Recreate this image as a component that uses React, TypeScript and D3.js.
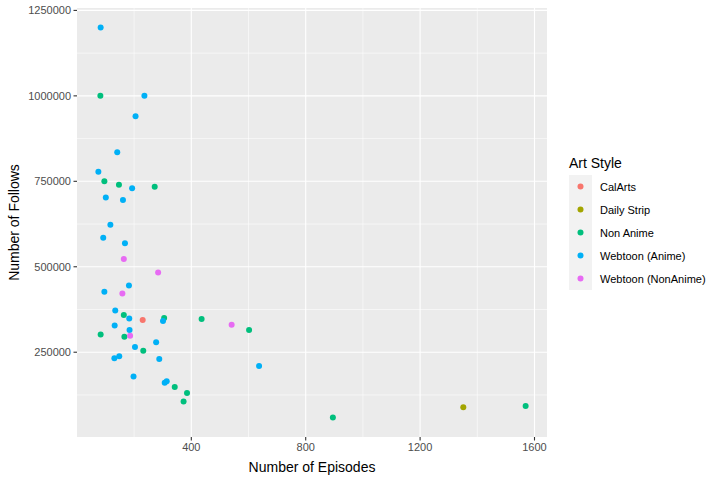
import React from 'react';
import * as d3 from 'd3';

const styles = ['CalArts', 'Daily Strip', 'Non Anime', 'Webtoon (Anime)', 'Webtoon (NonAnime)'];
const palette = ['#F8766D', '#A3A500', '#00BF7D', '#00B0F6', '#E76BF3'];

// [episodes, follows, style index]
const calArts = [[230, 344000]];
const dailyStrip = [[1351, 89000]];
const nonAnime = [
  [82, 1000000], [96, 750000], [147, 740000], [272, 734000], [164, 359000],
  [305, 350000], [436, 347000], [602, 315000], [83, 302000], [166, 295000],
  [232, 254000], [342, 148500], [385, 131000], [373, 106000], [895, 59000],
  [1569, 93000],
];
const webtoonAnime = [
  [83, 1200000], [236, 1000000], [205, 940000], [141, 835000], [75, 778000],
  [193, 730000], [101, 703000], [161, 695000], [117, 623000], [92, 585000],
  [168, 569000], [182, 445000], [96, 427000], [134, 372000], [183, 349000],
  [301, 341000], [132, 328000], [184, 315000], [277, 279000], [203, 265000],
  [131, 232000], [148, 238000], [288, 230000], [637, 210000], [198, 179000],
  [307, 161000], [314, 165000],
];
const webtoonNonAnime = [
  [164, 523000], [284, 483000], [159, 422000], [541, 330000], [186, 298000],
];

const series = [calArts, dailyStrip, nonAnime, webtoonAnime, webtoonNonAnime];
const points = series.flatMap((s, i) => s.map(([x, y]) => ({ x, y, k: i })));

const xTicks = [400, 800, 1200, 1600];
const xMinor = [200, 600, 1000, 1400];
const yTicks = [250000, 500000, 750000, 1000000, 1250000];
const yMinor = [125000, 375000, 625000, 875000, 1125000];

const W = 727;
const H = 479;
const panel = { left: 77, right: 547, top: 8, bottom: 437 };

const expand = (ext: [number, number]) => {
  const r = ext[1] - ext[0];
  return [ext[0] - r * 0.05, ext[1] + r * 0.05];
};

const App = () => {
  const ref = React.useRef<SVGSVGElement>(null);

  React.useEffect(() => {
    const svg = d3.select(ref.current);
    svg.selectAll('*').remove();
    const font = 'Liberation Sans, Arial, Helvetica, sans-serif';

    const x = d3.scaleLinear()
      .domain(expand(d3.extent(points, d => d.x) as [number, number]))
      .range([panel.left, panel.right]);
    const y = d3.scaleLinear()
      .domain(expand(d3.extent(points, d => d.y) as [number, number]))
      .range([panel.bottom, panel.top]);

    svg.append('rect')
      .attr('x', panel.left).attr('y', panel.top)
      .attr('width', panel.right - panel.left).attr('height', panel.bottom - panel.top)
      .attr('fill', '#EBEBEB');

    const grid = svg.append('g');
    grid.selectAll('.xmin').data(xMinor).join('line')
      .attr('x1', d => x(d)).attr('x2', d => x(d))
      .attr('y1', panel.top).attr('y2', panel.bottom)
      .attr('stroke', 'white').attr('stroke-width', 0.55);
    grid.selectAll('.ymin').data(yMinor).join('line')
      .attr('y1', d => y(d)).attr('y2', d => y(d))
      .attr('x1', panel.left).attr('x2', panel.right)
      .attr('stroke', 'white').attr('stroke-width', 0.55);
    grid.selectAll('.xmaj').data(xTicks).join('line')
      .attr('x1', d => x(d)).attr('x2', d => x(d))
      .attr('y1', panel.top).attr('y2', panel.bottom)
      .attr('stroke', 'white').attr('stroke-width', 1.1);
    grid.selectAll('.ymaj').data(yTicks).join('line')
      .attr('y1', d => y(d)).attr('y2', d => y(d))
      .attr('x1', panel.left).attr('x2', panel.right)
      .attr('stroke', 'white').attr('stroke-width', 1.1);

    // points
    svg.append('g').selectAll('circle').data(points).join('circle')
      .attr('cx', d => x(d.x)).attr('cy', d => y(d.y)).attr('r', 3)
      .attr('fill', d => palette[d.k]);

    // axes
    const xa = svg.append('g');
    xa.selectAll('line').data(xTicks).join('line')
      .attr('x1', d => x(d)).attr('x2', d => x(d))
      .attr('y1', panel.bottom).attr('y2', panel.bottom + 3.5)
      .attr('stroke', '#333').attr('stroke-width', 1.1);
    xa.selectAll('text').data(xTicks).join('text')
      .attr('x', d => x(d)).attr('y', panel.bottom + 14)
      .attr('text-anchor', 'middle').attr('font-size', 11).attr('font-family', font)
      .attr('fill', '#4D4D4D').text(d => String(d));

    const ya = svg.append('g');
    ya.selectAll('line').data(yTicks).join('line')
      .attr('y1', d => y(d)).attr('y2', d => y(d))
      .attr('x1', panel.left - 3.5).attr('x2', panel.left)
      .attr('stroke', '#333').attr('stroke-width', 1.1);
    ya.selectAll('text').data(yTicks).join('text')
      .attr('x', panel.left - 6).attr('y', d => y(d) + 4)
      .attr('text-anchor', 'end').attr('font-size', 11).attr('font-family', font)
      .attr('fill', '#4D4D4D').text(d => String(d));

    svg.append('text')
      .attr('x', (panel.left + panel.right) / 2).attr('y', 472)
      .attr('text-anchor', 'middle').attr('font-size', 14).attr('font-family', font)
      .text('Number of Episodes');
    svg.append('text')
      .attr('transform', `translate(19, ${(panel.top + panel.bottom) / 2}) rotate(-90)`)
      .attr('text-anchor', 'middle').attr('font-size', 14).attr('font-family', font)
      .text('Number of Follows');

    // legend
    const lg = svg.append('g').attr('transform', 'translate(569, 0)');
    lg.append('text').attr('x', 0).attr('y', 168)
      .attr('font-size', 14).attr('font-family', font).text('Art Style');
    lg.append('rect').attr('x', 0).attr('y', 175).attr('width', 23).attr('height', 115)
      .attr('fill', '#F2F2F2');
    const items = lg.selectAll('.item').data(styles).join('g')
      .attr('transform', (_, i) => `translate(0, ${186.5 + i * 23})`);
    items.append('circle').attr('cx', 11.5).attr('cy', 0).attr('r', 3)
      .attr('fill', (_, i) => palette[i]);
    items.append('text').attr('x', 31).attr('y', 4)
      .attr('font-size', 11).attr('font-family', font).attr('fill', 'black')
      .text(d => d);
  }, []);

  return (
    <svg ref={ref} width={W} height={H}
      style={{ position: 'absolute', left: 0, top: 0, background: 'white' }} />
  );
};

export default App;
